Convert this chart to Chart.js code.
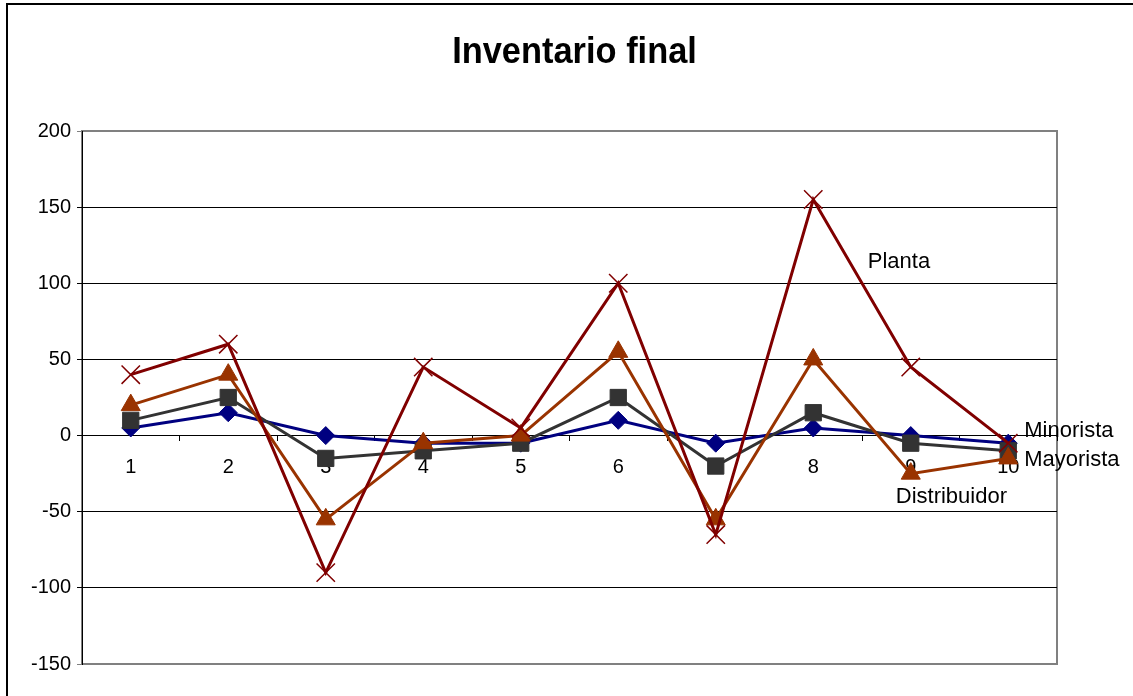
<!DOCTYPE html>
<html>
<head>
<meta charset="utf-8">
<title>Inventario final</title>
<style>
  html, body { margin: 0; padding: 0; background: #fff; }
  #wrap { position: relative; width: 1133px; height: 696px; }
</style>
</head>
<body>
<div id="wrap"><canvas id="chart"></canvas></div>
<script src="https://cdn.jsdelivr.net/npm/chart.js@4/dist/chart.umd.min.js"></script>
<script>
const periods = ["1", "2", "3", "4", "5", "6", "7", "8", "9", "10"];
const minorista = [5, 15, 0, -5, -5, 10, -5, 5, 0, -5];
const mayorista = [10, 25, -15, -10, -5, 25, -20, 15, -5, -10];
const distribuidor = [20, 40, -55, -5, 0, 55, -55, 50, -25, -15];
const planta = [40, 60, -90, 45, 5, 100, -65, 155, 45, -5];
const yTicks = [-150, -100, -50, 0, 50, 100, 150, 200];

const FONT = "'Liberation Sans', Arial, sans-serif";

// white background, outer frame, title and grey plot border
const framePlugin = {
  id: "frame",
  beforeDraw(chart) {
    const ctx = chart.ctx;
    const a = chart.chartArea;
    ctx.save();
    ctx.fillStyle = "#fff";
    ctx.fillRect(0, 0, chart.width, chart.height);
    ctx.strokeStyle = "#000";
    ctx.lineWidth = 2;
    ctx.beginPath();
    ctx.moveTo(7, chart.height);
    ctx.lineTo(7, 4);
    ctx.lineTo(chart.width, 4);
    ctx.stroke();
    ctx.strokeStyle = "#808080";
    ctx.lineWidth = 2;
    ctx.strokeRect(a.left, a.top, a.right - a.left, a.bottom - a.top);

    // title, slightly condensed like the original
    ctx.font = "bold 37px " + FONT;
    ctx.fillStyle = "#000";
    ctx.textAlign = "center";
    ctx.textBaseline = "alphabetic";
    ctx.translate((a.left + a.right) / 2 + 5, 63);
    ctx.scale(0.93, 1);
    ctx.fillText("Inventario final", 0, 0);
    ctx.restore();
  }
};

// series names written next to the lines (no legend box)
const labelPlugin = {
  id: "seriesLabels",
  afterDatasetsDraw(chart) {
    const x = chart.scales.x;
    const y = chart.scales.y;
    const ctx = chart.ctx;
    ctx.save();
    ctx.font = "22px " + FONT;
    ctx.fillStyle = "#000";
    ctx.textBaseline = "alphabetic";
    ctx.fillText("Planta", x.getPixelForValue(8) - 43, y.getPixelForValue(110));
    ctx.fillText("Minorista", x.getPixelForValue(9) + 16, y.getPixelForValue(-1));
    ctx.fillText("Mayorista", x.getPixelForValue(9) + 16, y.getPixelForValue(-20));
    ctx.fillText("Distribuidor", x.getPixelForValue(8) - 15, y.getPixelForValue(-44));
    ctx.restore();
  }
};

function series(label, data, color, style, radius, order) {
  return {
    label: label,
    data: data,
    borderColor: color,
    backgroundColor: color,
    borderWidth: 3,
    pointStyle: style,
    pointRadius: radius,
    pointHoverRadius: radius,
    pointBackgroundColor: color,
    pointBorderColor: color,
    pointBorderWidth: style === "crossRot" ? 1.5 : 1,
    tension: 0,
    order: order
  };
}

const ctx = document.querySelector("#chart").getContext("2d");
new Chart(ctx, {
  type: "line",
  data: {
    labels: periods,
    datasets: [
      series("Minorista", minorista, "#000080", "rectRot", 9, 4),
      series("Mayorista", mayorista, "#333333", "rect", 11.5, 3),
      series("Distribuidor", distribuidor, "#993300", "triangle", 11, 2),
      series("Planta", planta, "#800000", "crossRot", 13, 1)
    ]
  },
  options: {
    responsive: true,
    maintainAspectRatio: false,
    animation: false,
    layout: { padding: { left: 0, right: 76, top: 131, bottom: 32 } },
    plugins: {
      legend: { display: false },
      tooltip: { enabled: false },
      title: { display: false }
    },
    scales: {
      x: {
        position: { y: 0 },
        offset: true,
        grid: {
          offset: true,
          drawOnChartArea: false,
          drawTicks: true,
          tickLength: 5,
          color: "#000"
        },
        border: { display: true, color: "#000", width: 1 },
        ticks: {
          color: "#000",
          padding: 15,
          font: { family: FONT, size: 20 },
          maxRotation: 0,
          autoSkip: false
        }
      },
      y: {
        min: -150,
        max: 200,
        afterBuildTicks(scale) {
          scale.ticks = yTicks.map(v => ({ value: v }));
        },
        afterFit(scale) {
          scale.width = 82;
        },
        grid: {
          color: c => (c.tick && (c.tick.value === 200 || c.tick.value === -150)) ? "#808080" : "#000",
          lineWidth: 1,
          drawTicks: true,
          tickLength: 5
        },
        border: { display: true, color: "#000", width: 1 },
        ticks: {
          color: "#000",
          padding: 6,
          font: { family: FONT, size: 20 }
        }
      }
    }
  },
  plugins: [framePlugin, labelPlugin]
});
</script>
</body>
</html>
